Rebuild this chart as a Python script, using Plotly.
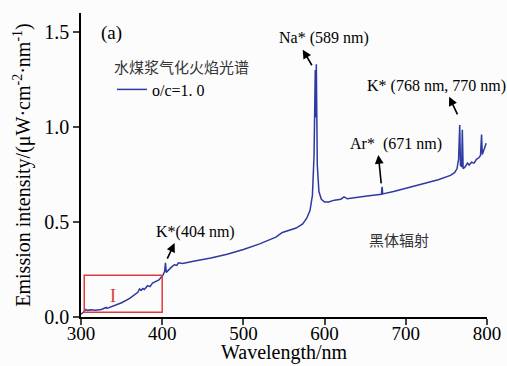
import plotly.graph_objects as go

wavelength = [300, 303, 306, 308, 312, 318, 325, 330, 331, 332, 340, 350, 360, 366, 370, 372, 374, 376, 378,
              382, 385, 388, 392, 396, 399, 401, 403, 404, 405, 408, 412, 415, 418, 420, 425, 440, 460, 480,
              500, 520, 540, 548, 555, 565, 573, 578, 582, 585, 587, 588.5, 589.2, 589.8, 591, 593, 596, 600,
              605, 612, 620, 624, 628, 635, 650, 665, 670, 670.8, 671.6, 685, 700, 720, 740, 755, 760, 763,
              765, 766.4, 767.3, 768.8, 769.6, 770.6, 773, 776, 778, 781, 784, 787, 790, 792, 793.3, 794.2,
              796, 798, 799]
intensity = [0.015, 0.025, 0.040, 0.035, 0.038, 0.036, 0.040, 0.045, 0.050, 0.045, 0.058, 0.075, 0.098, 0.115,
             0.130, 0.148, 0.140, 0.150, 0.145, 0.165, 0.160, 0.178, 0.185, 0.195, 0.210, 0.220, 0.240, 0.285,
             0.235, 0.250, 0.265, 0.275, 0.272, 0.285, 0.282, 0.295, 0.310, 0.330, 0.355, 0.385, 0.420, 0.445,
             0.455, 0.468, 0.490, 0.520, 0.560, 0.640, 0.850, 1.30, 1.05, 1.33, 0.80, 0.66, 0.62, 0.605,
             0.605, 0.615, 0.620, 0.632, 0.622, 0.625, 0.635, 0.643, 0.646, 0.685, 0.648, 0.660, 0.678, 0.700,
             0.722, 0.745, 0.760, 0.780, 0.830, 1.01, 0.80, 0.79, 0.985, 0.78, 0.790, 0.810, 0.800, 0.815,
             0.810, 0.830, 0.838, 0.850, 0.96, 0.855, 0.880, 0.900, 0.915]

x_ticks = [300, 400, 500, 600, 700, 800]
y_ticks = [0.0, 0.5, 1.0, 1.5]
y_tick_labels = ["0.0", "0.5", "1.0", "1.5"]

SERIF = "Liberation Serif, Times New Roman, serif"
CJK = "Noto Sans CJK SC"
LINE = "#2e3aa0"

fig = go.Figure()
fig.add_trace(go.Scatter(x=wavelength, y=intensity, mode="lines", name="o/c=1. 0",
                         line=dict(color=LINE, width=1.5)))

# red box region I
fig.add_shape(type="rect", x0=304, x1=400, y0=0.025, y1=0.22, xref="x", yref="y",
              line=dict(color="#e03a3a", width=1.5))

ann = []
def text(x, y, s, size=16, color="black", font=SERIF, xanchor="center"):
    ann.append(dict(x=x, y=y, xref="x", yref="y", text=s, showarrow=False,
                    font=dict(family=font, size=size, color=color), xanchor=xanchor, yanchor="middle"))

def arrow(x_tail, y_tail, x_head, y_head):
    ann.append(dict(x=x_head, y=y_head, ax=x_tail, ay=y_tail, xref="x", yref="y", axref="x", ayref="y",
                    text="", showarrow=True, arrowhead=2, arrowsize=1.1, arrowwidth=1.6, arrowcolor="black"))

text(337.8, 1.496, "(a)", size=19)
text(599.6, 1.470, "Na* (589 nm)")
text(737.5, 1.217, "K* (768 nm, 770 nm)")
text(688.3, 0.911, "Ar*\u00a0 (671 nm)")
text(441.3, 0.447, "K*(404 nm)")
text(692, 0.410, "黑体辐射", size=15, color="#333333", font=CJK)
text(339, 0.109, "I", size=18, color="#e03a3a")
arrow(585.4, 1.317, 573.1, 1.407)
arrow(764.5, 1.059, 753.4, 1.159)
arrow(669.9, 0.695, 666.2, 0.853)
arrow(405.4, 0.299, 415.3, 0.389)

# x-axis title placed below the tick labels
ann.append(dict(x=(285 - 81) / 406.5, y=(317 - 366) / 304, xref="paper", yref="paper",
                text="Wavelength/nm", showarrow=False, xanchor="center", yanchor="bottom",
                font=dict(family=SERIF, size=20, color="black")))

fig.update_layout(
    width=507, height=366,
    margin=dict(l=81, r=20, t=13, b=49, autoexpand=False),
    paper_bgcolor="#fcfcfc", plot_bgcolor="#fcfcfc",
    annotations=ann,
    showlegend=True,
    legend=dict(x=(112 - 81) / 406.5, y=(317 - 53) / 304, xanchor="left", yanchor="top",
                bgcolor="rgba(0,0,0,0)", borderwidth=0,
                title=dict(text="水煤浆气化火焰光谱", font=dict(family=CJK, size=15, color="#333333")),
                font=dict(family=SERIF, size=16, color="black"), itemwidth=30, tracegroupgap=0),
    xaxis=dict(range=[300, 800], tickvals=x_ticks, ticks="outside", ticklen=6, tickwidth=1.5,
               showline=True, linecolor="black", linewidth=1.5, showgrid=False, zeroline=False,
               automargin=False, ticklabelstandoff=-8,
               tickfont=dict(family=SERIF, size=19, color="black")),
    yaxis=dict(range=[0, 1.6], tickvals=y_ticks, ticktext=y_tick_labels, ticks="outside", ticklen=6,
               tickwidth=1.5, showline=True, linecolor="black", linewidth=1.5, showgrid=False, zeroline=False,
               automargin=True,
               tickfont=dict(family=SERIF, size=20, color="black"),
               title=dict(text="Emission intensity/(μW·cm<sup>-2</sup>·nm<sup>-1</sup>)",
                          font=dict(family=SERIF, size=20, color="black"), standoff=8)),
)

fig.write_html("out.html")
